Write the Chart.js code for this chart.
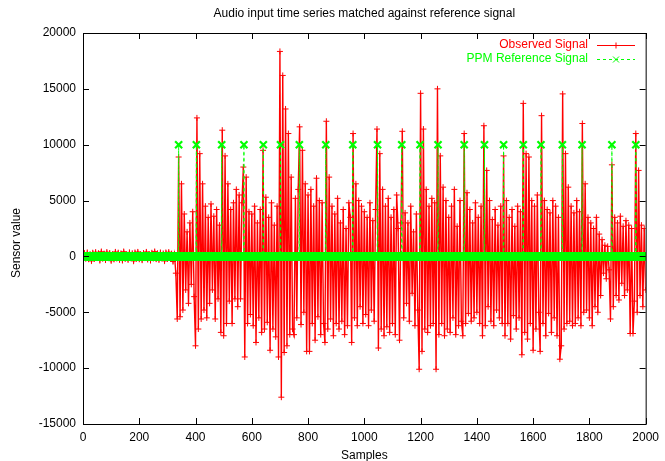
<!DOCTYPE html>
<html>
<head>
<meta charset="utf-8">
<script src="https://cdn.jsdelivr.net/npm/chart.js@4.4.0/dist/chart.umd.min.js"></script>
<style>
  html, body { margin: 0; padding: 0; background: #fff; }
</style>
</head>
<body>
<canvas id="chart" width="665" height="461"></canvas>
<script>
const chartTitle = 'Audio input time series matched against reference signal';
const xLabel = 'Samples';
const yLabel = 'Sensor value';
const xTicks = [0, 200, 400, 600, 800, 1000, 1200, 1400, 1600, 1800, 2000];
const yTicks = [-15000, -10000, -5000, 0, 5000, 10000, 15000, 20000];

// observed signal, one value every 5 samples
const sampleStep = 5;
const observed = [
  0, 300, -200, 350, -250, 200, -400, 320, -220, 380,                     // 0
  -150, 280, -350, 420, -200, 250, -320, 380, -120, 300,                  // 50
  -380, 200, -260, 400, -180, 330, -300, 260, -350, 420,                  // 100
  -220, 180, -300, 360, -120, 280, -400, 340, -200, 400,                  // 150
  -250, 200, -330, 300, -150, 400, -270, 220, -360, 320,                  // 200
  -180, 430, -240, 280, -300, 350, -170, 260, -400, 340,                  // 250
  -220, 380, -120, 250, -450, 200, -1500, -5600, 8900, -5400,             // 300
  6500, -4800, 3800, -3000, 2200, -4200, 3000, -2500, 4000, -3600,        // 350
  -8000, 12400, -6500, 9200, -5600, 6500, -4800, 4500, -5500, 3500,       // 400
  -4200, 4700, -3000, 3600, -5600, 4200, -3800, 2800, -6800, 11300,       // 450
  -7100, 9000, -6000, 6500, -4000, 4200, -6000, 4800, -3800, 6000,        // 500
  -4500, 5500, -3800, 4800, 8000, -9000, 7100, -6000, 4000, -5200,        // 550
  3800, -6200, 4500, -7700, 3000, -5500, 4200, -6800, 9500, -6500,        // 600
  5300, -5900, 3500, -8400, 4800, -6500, 2800, -7200, 4500, -9000,        // 650
  18350, -12600, 16200, -8600, 13200, -8000, 11000, -7000, 7100, -6500,   // 700
  -7000, 5200, -5500, 6000, 11600, -6100, 9500, -5000, 6500, -8500,       // 750
  5500, -8500, 6000, -6000, 4500, -7500, 7000, -5400, 5000, -7000,        // 800
  4800, -6000, -7700, 12100, -6500, 7100, -5600, 4500, -7100, 3800,       // 850
  -6000, 5200, -6500, 3000, -5800, 4200, -7000, 2500, -6200, 4800,        // 900
  3500, -7700, 11000, -5500, 6500, -6200, 5000, -4500, 4500, -6000,       // 950
  4000, -5200, 3500, -6200, 4800, -4800, 3200, -5800, 4200, 11400,        // 1000
  -8200, 9200, -6500, 6000, -7100, 4500, -6300, 5200, -6800, 3500,        // 1050
  -6000, 4200, -7000, 5500, 2500, -7500, 3000, 11200, -5500, 3900,        // 1100
  -4200, 3000, -5800, 4500, -3300, 2200, -6200, 3800, -4800, -10100,      // 1150
  14600, -8500, 11400, -6500, 6000, -6800, 4500, -6200, 5200, -6000,      // 1200
  4800, -10100, 15000, -7000, 9000, -6000, 6200, -7100, 5000, -6500,      // 1250
  3500, -6800, 4500, -5500, 6000, -7000, 2700, -6200, 5000, -5800,        // 1300
  -7100, 11000, -6000, 5700, -5100, 4200, -5800, 3000, -5500, 4800,       // 1350
  -5000, 3500, -6000, 4500, -7100, 11700, -6200, 7700, -4500, 5000,       // 1400
  -5800, 3300, -6200, 4200, -4800, 2800, -5500, 4500, -6000, 9000,        // 1450
  -7100, 5000, -6000, 3500, -7400, 4200, -5300, 2700, -6500, 4500,        // 1500
  -5500, 4000, -8800, 13700, -6800, 9200, -7400, 8900, -6000, 5000,       // 1550
  -8400, 4500, -6500, 5500, -5000, -8500, 12600, -6000, 5000, -7100,      // 1600
  4200, -5100, 3900, -6800, 5000, -5500, 4500, -7100, 3500, -9200,        // 1650
  -8000, 14550, -6500, 9200, -6000, 6200, -5800, 4500, -6200, 3900,       // 1700
  -6000, 5000, -5500, 4000, -6200, 11900, -5000, 6500, -4800, 3500,       // 1750
  -5500, 3000, -6200, 2500, -4500, 3500, -5000, 2000, -3500, 1500,        // 1800
  -1500, 1000, -2000, 900, -1200, -5600, 8200, -4500, 3500, -3500,        // 1850
  3000, -3900, 3600, -2400, 2700, -3500, 3200, -3000, 2800, -6900,        // 1900
  2500, -6900, -4000, 11000, -5000, 7700, -3500, 2800, -4500, 2500,       // 1950
  -3000                                                                   // 2000
];

// reference pulses (sample index) and their level; baseline is 0
const pulseSamples = [340, 403, 493, 572, 641, 702, 769, 863, 959, 1047, 1133,
  1198, 1262, 1355, 1427, 1495, 1565, 1628, 1704, 1774, 1880, 1965];
const pulseLevel = 10000;
const lastSample = 2000;

const RED = '#ff0000';
const GREEN = '#00ff00';
const FONT = '"Liberation Sans", Arial, Helvetica, sans-serif';

const observedData = observed.map((v, i) => ({ x: i * sampleStep, y: v }));
const referenceData = [];
for (let s = 0; s <= lastSample; s++) {
  referenceData.push({ x: s, y: pulseSamples.includes(s) ? pulseLevel : 0 });
}

function drawMarker(ctx, style, x, y, r) {
  ctx.beginPath();
  if (style === 'plus') {
    ctx.moveTo(x - r, y); ctx.lineTo(x + r, y);
    ctx.moveTo(x, y - r); ctx.lineTo(x, y + r);
  } else {
    ctx.moveTo(x - r, y - r); ctx.lineTo(x + r, y + r);
    ctx.moveTo(x - r, y + r); ctx.lineTo(x + r, y - r);
  }
  ctx.stroke();
}

const gnuplotFrame = {
  id: 'gnuplotFrame',
  afterDraw(chart) {
    const { ctx, chartArea: a, scales } = chart;
    ctx.save();
    ctx.strokeStyle = '#000';
    ctx.lineWidth = 1;
    ctx.strokeRect(a.left + 0.5, a.top + 0.5, a.right - a.left, a.bottom - a.top);

    // inward ticks on all four sides
    ctx.beginPath();
    xTicks.forEach(v => {
      const px = Math.round(scales.x.getPixelForValue(v)) + 0.5;
      ctx.moveTo(px, a.bottom); ctx.lineTo(px, a.bottom - 6);
      ctx.moveTo(px, a.top); ctx.lineTo(px, a.top + 6);
    });
    yTicks.forEach(v => {
      const py = Math.round(scales.y.getPixelForValue(v)) + 0.5;
      ctx.moveTo(a.left, py); ctx.lineTo(a.left + 6, py);
      ctx.moveTo(a.right, py); ctx.lineTo(a.right - 6, py);
    });
    ctx.stroke();

    ctx.fillStyle = '#000';
    ctx.font = '12px ' + FONT;
    ctx.textAlign = 'center';
    ctx.textBaseline = 'middle';
    ctx.fillText(chartTitle, (a.left + a.right) / 2, 14);
    ctx.fillText(xLabel, (a.left + a.right) / 2, 456);
    ctx.save();
    ctx.translate(17, 243);
    ctx.rotate(-Math.PI / 2);
    ctx.fillText(yLabel, 0, 0);
    ctx.restore();

    // legend, gnuplot style: text right-aligned, then sample
    const rows = [
      { text: 'Observed Signal', color: RED, dash: [], marker: 'plus', y: 45 },
      { text: 'PPM Reference Signal', color: GREEN, dash: [3, 3], marker: 'cross', y: 59 }
    ];
    rows.forEach(r => {
      ctx.fillStyle = r.color;
      ctx.textAlign = 'right';
      ctx.fillText(r.text, 588, r.y);
      ctx.strokeStyle = r.color;
      ctx.setLineDash(r.dash);
      ctx.beginPath();
      ctx.moveTo(597, r.y + 0.5); ctx.lineTo(635, r.y + 0.5);
      ctx.stroke();
      ctx.setLineDash([]);
      drawMarker(ctx, r.marker, 616, r.y + 0.5, 3);
    });
    ctx.restore();
  }
};

new Chart(document.getElementById('chart').getContext('2d'), {
  type: 'line',
  data: {
    datasets: [
      {
        label: 'PPM Reference Signal',
        data: referenceData,
        borderColor: GREEN,
        borderWidth: 1,
        borderDash: [3, 3],
        pointStyle: 'crossRot',
        pointRadius: 5,
        pointBorderColor: GREEN,
        pointBorderWidth: 2.2,
        tension: 0
      },
      {
        label: 'Observed Signal',
        data: observedData,
        borderColor: RED,
        borderWidth: 1.4,
        pointStyle: 'cross',
        pointRadius: 3,
        pointBorderColor: RED,
        pointBorderWidth: 1,
        tension: 0
      }
    ]
  },
  options: {
    responsive: false,
    animation: false,
    events: [],
    layout: { padding: { top: 33, right: 16, left: 0, bottom: 0 } },
    plugins: { legend: { display: false }, title: { display: false }, tooltip: { enabled: false } },
    scales: {
      x: {
        type: 'linear',
        min: 0,
        max: 2000,
        afterBuildTicks: s => { s.ticks = xTicks.map(v => ({ value: v })); },
        afterFit: s => { s.height = 37; },
        grid: { display: false, drawTicks: false },
        border: { display: false },
        ticks: { color: '#000', font: { family: FONT, size: 12 }, padding: 6, maxRotation: 0, autoSkip: false, callback: v => String(v) }
      },
      y: {
        min: -15000,
        max: 20000,
        afterBuildTicks: s => { s.ticks = yTicks.map(v => ({ value: v })); },
        afterFit: s => { s.width = 83; },
        grid: { display: false, drawTicks: false },
        border: { display: false },
        ticks: { color: '#000', font: { family: FONT, size: 12 }, padding: 7, autoSkip: false, callback: v => String(v) }
      }
    }
  },
  plugins: [gnuplotFrame]
});
</script>
</body>
</html>
